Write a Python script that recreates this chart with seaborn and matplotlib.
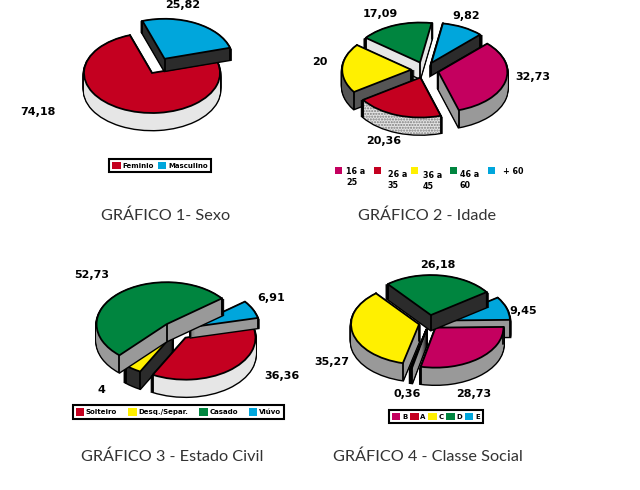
import matplotlib
matplotlib.use('Agg')
import matplotlib.pyplot as plt
import seaborn as sns
from matplotlib.patches import Patch, Rectangle
import math

W, H = 640, 490

# colours of the tops
MAG = '#c4005f'
RED = '#c40020'
YEL = '#fff000'
GRN = '#00853f'
BLU = '#00a6dc'
# colours of the sides
LIGHT = '#e6e6e6'
MID = '#999999'
GREY = '#555555'
DARK = '#2b2b2b'
DOTS = '#e4e4e4'

sexo_names = ['Feminio', 'Masculino']
sexo_values = [74.18, 25.82]
sexo_labels = ['74,18', '25,82']

idade_names = ['16 a\n25', '26 a\n35', '36 a\n45', '46 a\n60', '+ 60']
idade_values = [32.73, 20.36, 20, 17.09, 9.82]
idade_labels = ['32,73', '20,36', '20', '17,09', '9,82']

civil_names = ['Solteiro', 'Desq./Separ.', 'Casado', 'Viúvo']
civil_values = [36.36, 4, 52.73, 6.91]
civil_labels = ['36,36', '4', '52,73', '6,91']

classe_names = ['B', 'A', 'C', 'D', 'E']
classe_values = [28.73, 0.36, 35.27, 26.18, 9.45]
classe_labels = ['28,73', '0,36', '35,27', '26,18', '9,45']

sns.set_theme(style='white')
fig = plt.figure(figsize=(W / 100, H / 100), dpi=100, facecolor='white')


def fx(x):
    return x / W


def fy(y):
    return 1 - y / H


def pie_3d(values, colors, sides, explode, start, cx, cy, rx, ry, depth, order):
    ax = fig.add_axes([0, 0, 1, 1])
    base = dict(explode=explode, startangle=start, counterclock=False, radius=1)
    # side walls: stacked copies of the pie going down one pixel at a time
    for k in range(max(depth), 0, -1):
        under, _ = ax.pie(values, colors=['black'] * len(values), center=(0, -k / ry),
                          wedgeprops=dict(edgecolor='black', linewidth=2), **base)
        fill, _ = ax.pie(values, colors=sides, center=(0, -k / ry),
                         wedgeprops=dict(linewidth=0), **base)
        for i in range(len(values)):
            under[i].set_zorder(order[i] + 1)
            fill[i].set_zorder(order[i] + 1.1)
            under[i].set_visible(k <= depth[i])
            fill[i].set_visible(k <= depth[i])
            if sides[i] == DOTS:
                fill[i].set_hatch('......')
                fill[i].set_edgecolor('#707070')
    top, _ = ax.pie(values, colors=colors,
                    wedgeprops=dict(edgecolor='black', linewidth=1.3), **base)
    for i, w in enumerate(top):
        w.set_zorder(order[i] + 1.3)
        # corners of the slice get a vertical line, the top hides the ones behind
        x0, y0 = w.center
        corners = [(x0, y0)]
        for t in (w.theta1, w.theta2):
            corners.append((x0 + math.cos(math.radians(t)), y0 + math.sin(math.radians(t))))
        for x, y in corners:
            ax.plot([x, x], [y, y - depth[i] / ry], color='black', lw=1.3,
                    zorder=order[i] + 1.2, solid_capstyle='round')
    ax.set_aspect('auto')
    ax.set_xlim(-cx / rx, (W - cx) / rx)
    ax.set_ylim((cy - H) / ry, cy / ry)
    ax.axis('off')
    return ax


pie_3d(sexo_values, [RED, BLU], [LIGHT, DARK], [0, 0.4], 16, 152, 73, 68, 40,
       [17, 12], [0, 1])
pie_3d(idade_values, [MAG, RED, YEL, GRN, BLU], [MID, DOTS, GREY, LIGHT, DARK],
       [0.2] * 5, 45, 425, 70, 69, 40, [17, 17, 17, 16, 12], [4, 3, 2, 1, 0])
pie_3d(civil_values, [RED, YEL, GRN, BLU], [LIGHT, DARK, MID, MID],
       [0.2, 0.1, 0.22, 0.2], 13, 177, 331, 70, 42, [17, 17, 17, 10], [1, 0, 3, 2])
pie_3d(classe_values, [MAG, RED, YEL, GRN, BLU], [MID, MID, MID, DARK, MID],
       [0.15, 0.15, 0.15, 0.2, 0.2], 1, 429, 323, 68, 40, [17, 15, 17, 15, 17], [2, 1, 4, 3, 0])

# value labels
value_font = dict(fontsize=8, fontweight='bold', color='black', ha='center', va='center',
                  family='DejaVu Sans')
label_pos = [
    (sexo_labels, [(38, 112), (183, 5)]),
    (idade_labels, [(533, 77), (384, 141), (320, 62), (380, 14), (466, 16)]),
    (civil_labels, [(282, 376), (101, 390), (92, 275), (271, 298)]),
    (classe_labels, [(474, 394), (407, 394), (332, 362), (438, 265), (523, 311)]),
]
for labels, positions in label_pos:
    for s, (x, y) in zip(labels, positions):
        fig.text(fx(x), fy(y), s, **value_font)

# titles
titles = ['GRÁFICO 1- Sexo', 'GRÁFICO 2 - Idade', 'GRÁFICO 3 - Estado Civil', 'GRÁFICO 4 - Classe Social']
title_pos = [(166, 216), (427, 216), (172, 457), (428, 457)]
for s, (x, y) in zip(titles, title_pos):
    fig.text(fx(x), fy(y), s, fontsize=11.7, family='Lato', color='#333333', ha='center', va='center')


# boxed legends
def boxed_legend(names, colors, x, y, spacing, fontsize=5):
    handles = [Patch(facecolor=c, edgecolor='none', label=n) for n, c in zip(names, colors)]
    leg = fig.legend(handles=handles, loc='center', bbox_to_anchor=(fx(x), fy(y)), ncol=len(names),
                     frameon=True, fancybox=False, edgecolor='black', framealpha=1,
                     handlelength=1.2, handleheight=1.2, handletextpad=0.25, columnspacing=spacing,
                     borderpad=0.45, borderaxespad=0,
                     prop=dict(size=fontsize, weight='bold', family='DejaVu Sans'))
    leg.get_frame().set_linewidth(1.5)
    for t in leg.get_texts():
        t.set_color('black')


boxed_legend(sexo_names, [RED, BLU], 160, 165.5, 0.6)
boxed_legend(civil_names, [RED, YEL, GRN, BLU], 178.5, 412, 1.6)
boxed_legend(classe_names, [MAG, RED, YEL, GRN, BLU], 436, 416.5, 0.4)

# loose legend of chart 2, each entry sits a bit lower than the last
idade_colors = [MAG, RED, YEL, GRN, BLU]
swatch_pos = [(338, 170), (377, 170), (414, 170), (453, 170), (491, 170)]
text_pos = [(346, 177), (388, 180), (423, 181), (460, 180), (503, 172)]
for n, c, (sx, sy), (tx, ty) in zip(idade_names, idade_colors, swatch_pos, text_pos):
    fig.add_artist(Rectangle((fx(sx - 3), fy(sy + 3.5)), 6.5 / W, 7 / H, color=c, lw=0,
                             transform=fig.transFigure))
    fig.text(fx(tx), fy(ty), n, fontsize=5.8, fontweight='bold', family='DejaVu Sans', color='black',
             ha='left', va='center', linespacing=1.25)

fig.savefig('out.png', dpi=100)
